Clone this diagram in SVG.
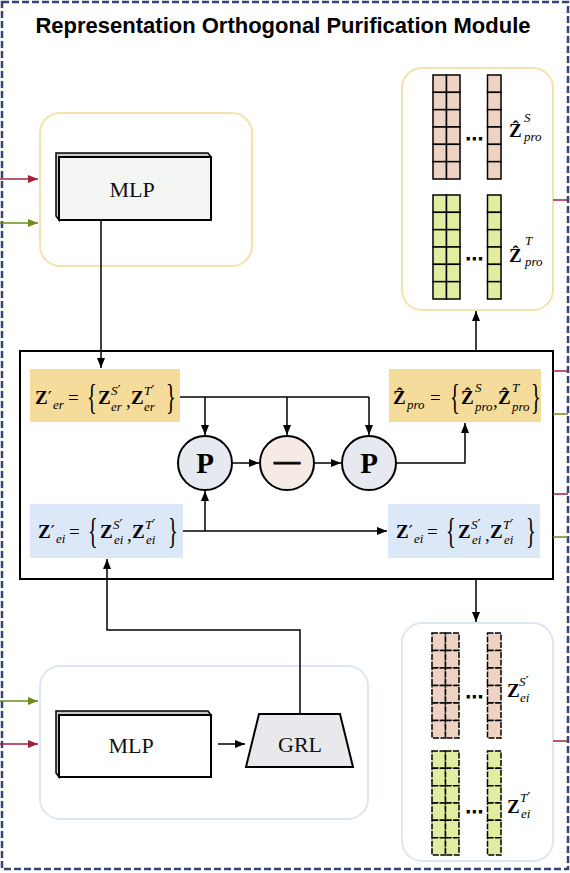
<svg xmlns="http://www.w3.org/2000/svg" width="570" height="873" viewBox="0 0 570 873">
<style>
.title{font-family:"Liberation Sans",Arial,sans-serif;font-weight:bold;font-size:22px;fill:#000}
.lbl{font-family:"Liberation Serif","DejaVu Serif",serif;font-size:22px;fill:#111}
.mb{font-family:"Liberation Serif","DejaVu Serif",serif;font-weight:bold;font-size:19px}
.mr{font-family:"Liberation Serif","DejaVu Serif",serif;font-size:19px}
.mi{font-family:"Liberation Serif","DejaVu Serif",serif;font-style:italic;font-weight:normal;font-size:13px}
.pr{font-family:"DejaVu Sans",sans-serif;font-size:18px;font-weight:normal;font-style:normal}
.prs{font-family:"DejaVu Sans",sans-serif;font-size:14px;font-weight:normal;font-style:normal}
.br{font-family:"Liberation Serif","DejaVu Serif",serif;font-size:24px}
.ln{fill:none;stroke:#000;stroke-width:1.5}
.cell{stroke:#000;stroke-width:1.5}
.dcell{stroke:#000;stroke-width:1.5;stroke-dasharray:6 1.5}
.pink{fill:#eed3c4}
.green{fill:#e3eda2}
.circ{stroke:#000;stroke-width:2}
.dots{font-family:"DejaVu Sans",sans-serif;font-size:18px;font-weight:bold}
</style>
<defs>
<marker id="ah" markerUnits="userSpaceOnUse" markerWidth="10" markerHeight="8" refX="10" refY="4" orient="auto"><path d="M0,0 L10,4 L0,8 z" fill="#000"/></marker>
<marker id="ahr" markerUnits="userSpaceOnUse" markerWidth="10" markerHeight="8" refX="10" refY="4" orient="auto"><path d="M0,0 L10,4 L0,8 z" fill="#a3203d"/></marker>
<marker id="ahg" markerUnits="userSpaceOnUse" markerWidth="10" markerHeight="8" refX="10" refY="4" orient="auto"><path d="M0,0 L10,4 L0,8 z" fill="#6f8d1f"/></marker>
<g id="colS"><rect class="cell pink" x="0" y="0" width="13.5" height="17.33"/><rect class="cell pink" x="0" y="17.33" width="13.5" height="17.33"/><rect class="cell pink" x="0" y="34.67" width="13.5" height="17.33"/><rect class="cell pink" x="0" y="52" width="13.5" height="17.33"/><rect class="cell pink" x="0" y="69.33" width="13.5" height="17.33"/><rect class="cell pink" x="0" y="86.67" width="13.5" height="17.33"/></g>
<g id="colT"><rect class="cell green" x="0" y="0" width="13.5" height="17.33"/><rect class="cell green" x="0" y="17.33" width="13.5" height="17.33"/><rect class="cell green" x="0" y="34.67" width="13.5" height="17.33"/><rect class="cell green" x="0" y="52" width="13.5" height="17.33"/><rect class="cell green" x="0" y="69.33" width="13.5" height="17.33"/><rect class="cell green" x="0" y="86.67" width="13.5" height="17.33"/></g>
<g id="dcolS"><rect class="dcell pink" x="0" y="0" width="13.5" height="17.5"/><rect class="dcell pink" x="0" y="17.5" width="13.5" height="17.5"/><rect class="dcell pink" x="0" y="35" width="13.5" height="17.5"/><rect class="dcell pink" x="0" y="52.5" width="13.5" height="17.5"/><rect class="dcell pink" x="0" y="70" width="13.5" height="17.5"/><rect class="dcell pink" x="0" y="87.5" width="13.5" height="17.5"/></g>
<g id="dcolT"><rect class="dcell green" x="0" y="0" width="13.5" height="17.33"/><rect class="dcell green" x="0" y="17.33" width="13.5" height="17.33"/><rect class="dcell green" x="0" y="34.67" width="13.5" height="17.33"/><rect class="dcell green" x="0" y="52" width="13.5" height="17.33"/><rect class="dcell green" x="0" y="69.33" width="13.5" height="17.33"/><rect class="dcell green" x="0" y="86.67" width="13.5" height="17.33"/></g>
</defs>
<rect x="0" y="0" width="570" height="873" fill="#fff"/>
<rect x="2" y="2" width="566" height="867" fill="none" stroke="#34457a" stroke-width="2.5" stroke-dasharray="7 3"/>
<text class="title" x="283" y="33" text-anchor="middle">Representation Orthogonal Purification Module</text>

<!-- containers -->
<g id="topLeftContainer"><rect x="40" y="113" width="212" height="153" rx="20" fill="none" stroke="#f2e2ad" stroke-width="2"/></g>
<g id="bottomLeftContainer"><rect x="40" y="666" width="328" height="153" rx="20" fill="none" stroke="#dde6f5" stroke-width="2"/></g>
<g id="topRightContainer"><rect x="402" y="68" width="151" height="242" rx="20" fill="none" stroke="#f2e2ad" stroke-width="2"/></g>
<g id="bottomRightContainer"><rect x="402" y="623" width="151" height="238" rx="20" fill="none" stroke="#dde6f5" stroke-width="2"/></g>
<g id="mainBox"><rect x="20" y="351" width="533" height="228" fill="none" stroke="#000" stroke-width="2"/></g>

<!-- MLP top -->
<g id="mlpTop">
<polygon points="56,153 208,153 211,157 59,157 59,220 56,216" fill="#c8c8c8" stroke="#000" stroke-width="1.5"/>
<rect x="59" y="157" width="152" height="63" fill="#f3f6f3" stroke="#000" stroke-width="2"/>
<text class="lbl" x="132" y="197" text-anchor="middle">MLP</text>
</g>
<!-- MLP bottom -->
<g id="mlpBottom">
<polygon points="56,711 208,711 211,715 59,715 59,777 56,773" fill="#c8c8c8" stroke="#000" stroke-width="1.5"/>
<rect x="59" y="715" width="152" height="62" fill="#fff" stroke="#000" stroke-width="2"/>
<text class="lbl" x="131" y="753" text-anchor="middle">MLP</text>
</g>
<g id="grl">
<polygon points="259,714 340,714 353,767 246,767" fill="#e8e9ec" stroke="#000" stroke-width="2"/>
<text class="lbl" x="300" y="752" text-anchor="middle">GRL</text>
</g>

<!-- Z'er box -->
<g id="zer">
<rect x="30" y="369" width="150" height="53" fill="#f6dc9a"/>
<text class="mb" x="35" y="404">Z<tspan class="pr">′</tspan><tspan class="mi" x="53" y="409">er</tspan></text>
<text class="mr" x="68" y="404">=</text>
<text class="br" transform="translate(87,409) scale(0.85,1.5)">{</text>
<text class="mb" x="98" y="404">Z<tspan class="mi" x="111" y="395">S</tspan><tspan class="prs">′</tspan><tspan class="mi" x="111" y="411">er</tspan></text>
<text class="mr" x="126" y="407">,</text>
<text class="mb" x="131" y="404">Z<tspan class="mi" x="144" y="395">T</tspan><tspan class="prs">′</tspan><tspan class="mi" x="144" y="411">er</tspan></text>
<text class="br" transform="translate(166,409) scale(0.85,1.5)">}</text>
</g>

<!-- Zpro box -->
<g id="zpro">
<rect x="389" y="369" width="152" height="53" fill="#f6dc9a"/>
<text class="mb" x="393" y="404">Ẑ<tspan class="mi" x="407" y="409">pro</tspan></text>
<text class="mr" x="430" y="404">=</text>
<text class="br" transform="translate(450,409) scale(0.85,1.5)">{</text>
<text class="mb" x="461" y="404">Ẑ<tspan class="mi" x="475" y="392">S</tspan><tspan class="mi" x="475" y="411">pro</tspan></text>
<text class="mr" x="493" y="407">,</text>
<text class="mb" x="498" y="404">Ẑ<tspan class="mi" x="512" y="392">T</tspan><tspan class="mi" x="512" y="411">pro</tspan></text>
<text class="br" transform="translate(531,409) scale(0.85,1.5)">}</text>
</g>

<!-- Z'ei left -->
<g id="zeiLeft">
<rect x="30" y="504" width="153" height="54" fill="#dce8f8"/>
<text class="mb" x="38" y="538">Z<tspan class="pr">′</tspan><tspan class="mi" x="56" y="543">ei</tspan></text>
<text class="mr" x="69" y="538">=</text>
<text class="br" transform="translate(88,543) scale(0.85,1.5)">{</text>
<text class="mb" x="100" y="538">Z<tspan class="mi" x="113" y="529">S</tspan><tspan class="prs">′</tspan><tspan class="mi" x="114" y="544">ei</tspan></text>
<text class="mr" x="127" y="541">,</text>
<text class="mb" x="132" y="538">Z<tspan class="mi" x="145" y="529">T</tspan><tspan class="prs">′</tspan><tspan class="mi" x="146" y="544">ei</tspan></text>
<text class="br" transform="translate(168,543) scale(0.85,1.5)">}</text>
</g>
<!-- Z'ei right -->
<g id="zeiRight">
<rect x="388" y="504" width="152" height="54" fill="#dce8f8"/>
<text class="mb" x="396" y="538">Z<tspan class="pr">′</tspan><tspan class="mi" x="414" y="543">ei</tspan></text>
<text class="mr" x="427" y="538">=</text>
<text class="br" transform="translate(446,543) scale(0.85,1.5)">{</text>
<text class="mb" x="458" y="538">Z<tspan class="mi" x="471" y="529">S</tspan><tspan class="prs">′</tspan><tspan class="mi" x="472" y="544">ei</tspan></text>
<text class="mr" x="485" y="541">,</text>
<text class="mb" x="490" y="538">Z<tspan class="mi" x="503" y="529">T</tspan><tspan class="prs">′</tspan><tspan class="mi" x="504" y="544">ei</tspan></text>
<text class="br" transform="translate(526,543) scale(0.85,1.5)">}</text>
</g>

<!-- circles -->
<g id="p1"><circle class="circ" cx="205" cy="463" r="27" fill="#e6e9ef"/><text x="205" y="473" text-anchor="middle" font-family="Liberation Serif,serif" font-weight="bold" font-size="29">P</text></g>
<g id="minus"><circle class="circ" cx="287" cy="463" r="27" fill="#f6ebe4"/><text x="287" y="469" text-anchor="middle" font-family="Liberation Serif,serif" font-weight="bold" font-size="26" stroke="#000" stroke-width="0.8">—</text></g>
<g id="p2"><circle class="circ" cx="369" cy="463" r="27" fill="#e6e9ef"/><text x="369" y="473" text-anchor="middle" font-family="Liberation Serif,serif" font-weight="bold" font-size="29">P</text></g>

<!-- grids top right -->
<g id="gridProS">
<use href="#colS" x="433" y="75"/><use href="#colS" x="446.5" y="75"/><use href="#colS" x="487.5" y="75"/>
<text class="dots" x="474" y="145" text-anchor="middle">⋯</text>
<text class="mb" x="509" y="137">Ẑ<tspan class="mi" x="524" y="122">S</tspan><tspan class="mi" x="524" y="141">pro</tspan></text>
</g>
<g id="gridProT">
<use href="#colT" x="433" y="195"/><use href="#colT" x="446.5" y="195"/><use href="#colT" x="487.5" y="195"/>
<text class="dots" x="474" y="265" text-anchor="middle">⋯</text>
<text class="mb" x="509" y="262">Ẑ<tspan class="mi" x="525" y="245">T</tspan><tspan class="mi" x="525" y="266">pro</tspan></text>
</g>
<!-- grids bottom right -->
<g id="gridEiS">
<use href="#dcolS" x="432" y="633"/><use href="#dcolS" x="445.5" y="633"/><use href="#dcolS" x="487.5" y="633"/>
<text class="dots" x="474" y="703" text-anchor="middle">⋯</text>
<text class="mb" x="507" y="697" font-size="17">Z<tspan class="mi" x="519" y="686" font-size="12">S</tspan><tspan class="prs" font-size="13">′</tspan><tspan class="mi" x="520" y="702" font-size="12">ei</tspan></text>
</g>
<g id="gridEiT">
<use href="#dcolT" x="432" y="751"/><use href="#dcolT" x="445.5" y="751"/><use href="#dcolT" x="487.5" y="751"/>
<text class="dots" x="474" y="818" text-anchor="middle">⋯</text>
<text class="mb" x="507" y="813" font-size="17">Z<tspan class="mi" x="520" y="802" font-size="12">T</tspan><tspan class="prs" font-size="13">′</tspan><tspan class="mi" x="521" y="818" font-size="12">ei</tspan></text>
</g>

<!-- connectors -->
<g id="connectors">
<path class="ln" d="M101,220 V368" marker-end="url(#ah)"/>
<path class="ln" d="M180,397 H369"/>
<path class="ln" d="M205,397 V435" marker-end="url(#ah)"/>
<path class="ln" d="M287,397 V435" marker-end="url(#ah)"/>
<path class="ln" d="M369,397 V435" marker-end="url(#ah)"/>
<path class="ln" d="M232,463 H259" marker-end="url(#ah)"/>
<path class="ln" d="M314,463 H341" marker-end="url(#ah)"/>
<path class="ln" d="M396,463 H465 V423" marker-end="url(#ah)"/>
<path class="ln" d="M183,531 H387" marker-end="url(#ah)"/>
<path class="ln" d="M205,531 V491" marker-end="url(#ah)"/>
<path class="ln" d="M300,714 V630 H107 V559" marker-end="url(#ah)"/>
<path class="ln" d="M218,744 H245" marker-end="url(#ah)"/>
<path class="ln" d="M476,351 V311" marker-end="url(#ah)"/>
<path class="ln" d="M476,579 V622" marker-end="url(#ah)"/>
<path d="M0,179 H38" stroke="#a3203d" stroke-width="1.5" marker-end="url(#ahr)"/>
<path d="M0,223 H38" stroke="#6f8d1f" stroke-width="1.5" marker-end="url(#ahg)"/>
<path d="M0,701 H38" stroke="#6f8d1f" stroke-width="1.5" marker-end="url(#ahg)"/>
<path d="M0,744 H38" stroke="#a3203d" stroke-width="1.5" marker-end="url(#ahr)"/>
<path d="M553,200 H568" stroke="#a3203d" stroke-width="1.5"/>
<path d="M553,371 H568" stroke="#a3203d" stroke-width="1.5"/>
<path d="M553,414 H568" stroke="#6f8d1f" stroke-width="1.5"/>
<path d="M553,494 H568" stroke="#a3203d" stroke-width="1.5"/>
<path d="M553,537 H568" stroke="#6f8d1f" stroke-width="1.5"/>
<path d="M553,741 H568" stroke="#a3203d" stroke-width="1.5"/>
</g>
</svg>
